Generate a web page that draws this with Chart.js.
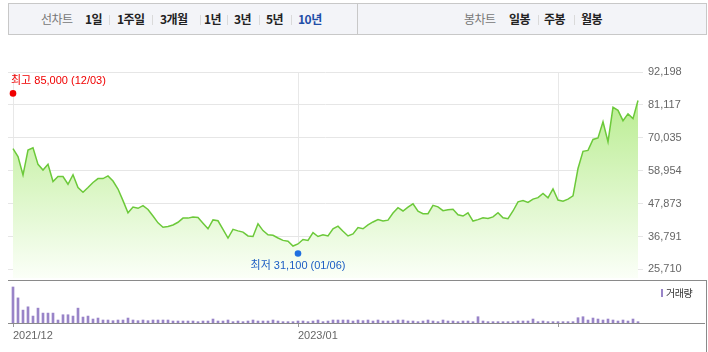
<!DOCTYPE html>
<html>
<head>
<meta charset="utf-8">
<script src="https://cdn.jsdelivr.net/npm/chart.js@4.4.1/dist/chart.umd.min.js"></script>
<style>
body{margin:0;width:708px;height:352px;position:relative;background:#fff;overflow:hidden;font-family:"Noto Sans CJK KR",sans-serif}
.bar{position:absolute;top:3px;height:30px;border:1px solid #c8c8c8;background:#f3f4f8}
.bar span{position:absolute;top:0;line-height:30px;font-size:12px;font-weight:bold;color:#222;white-space:nowrap;letter-spacing:-0.5px}
.bar span.t{color:#777;font-weight:normal}
.bar span.on{color:#1f4ea8}
.bar i{position:absolute;top:11px;width:1px;height:10px;background:#dadada}
canvas{position:absolute;left:0}
#price{top:0}
#vol{top:280px}
.frame-h{position:absolute;left:8px;top:280px;width:699px;height:1px;background:#8a8a8a}
.frame-v{position:absolute;left:706px;top:280px;width:1px;height:72px;background:#8a8a8a}
.lg{position:absolute;left:661px;top:289px;width:2px;height:8px;background:#9984c8}
.lgt{position:absolute;left:666px;top:286px;font-size:10px;line-height:14px;color:#333;letter-spacing:-0.5px}
</style>
</head>
<body>
<div class="bar" style="left:8px;width:348px">
  <span class="t" style="left:32px">선차트</span>
  <span style="left:76px">1일</span><i style="left:100px"></i>
  <span style="left:108px">1주일</span><i style="left:143px"></i>
  <span style="left:151px">3개월</span><i style="left:191px"></i>
  <span style="left:195px">1년</span><i style="left:218px"></i>
  <span style="left:225px">3년</span><i style="left:250px"></i>
  <span style="left:257px">5년</span><i style="left:282px"></i>
  <span class="on" style="left:289px">10년</span>
</div>
<div class="bar" style="left:357px;width:348px">
  <span class="t" style="left:106px">봉차트</span>
  <span style="left:151px">일봉</span><i style="left:180px"></i>
  <span style="left:186px">주봉</span><i style="left:216px"></i>
  <span style="left:223px">월봉</span>
</div>
<canvas id="price" width="708" height="290"></canvas>
<canvas id="vol" width="708" height="72"></canvas>
<div class="frame-h"></div>
<div class="frame-v"></div>
<div class="lg"></div>
<div class="lgt">거래량</div>
<script>
// weekly close prices, 2021/12 ~
const closePrices = [
  66400, 63700, 57500, 65900, 66700, 61100, 59200, 61100, 55300, 57000,
  57000, 54400, 57600, 53300, 51700, 53300, 55000, 56300, 56300, 57200,
  55500, 52800, 48900, 44800, 46700, 46300, 47200, 45900, 43700, 41400,
  39900, 40200, 40700, 41600, 43000, 43000, 43400, 43200, 41300, 39400,
  42400, 42100, 39200, 36300, 39200, 38700, 38300, 37000, 36800, 41100,
  38800, 37400, 37200, 36300, 35500, 35200, 33600, 34300, 35800, 35500,
  38100, 36800, 37400, 37000, 39400, 40300, 38600, 37000, 37700, 39800,
  39400, 40700, 41700, 42500, 42000, 42300, 44700, 46500, 45400, 46700,
  47800, 45300, 44500, 44500, 47300, 46800, 45500, 45800, 46000, 44100,
  43700, 44800, 42000, 42500, 43100, 42900, 43400, 44800, 43100, 42800,
  45400, 48500, 48900, 48300, 49400, 49900, 51300, 49800, 52800, 49100,
  48700, 49400, 50500, 59700, 65500, 65800, 69500, 70000, 75400, 68700,
  80300, 79300, 75800, 78100, 76500, 82600
];
// weekly volume (10k shares)
const volumes = [
  109, 76, 39, 49, 21, 45, 30, 30, 30, 9,
  25, 25, 21, 45, 18, 21, 12, 15, 9, 9,
  7, 9, 9, 15, 9, 7, 9, 7, 9, 9,
  9, 9, 6, 6, 6, 6, 6, 4, 6, 6,
  12, 6, 6, 9, 4, 6, 4, 6, 9, 6,
  6, 6, 9, 6, 4, 4, 4, 6, 6, 4,
  6, 9, 4, 6, 9, 9, 9, 9, 6, 9,
  7, 9, 6, 9, 6, 6, 6, 9, 9, 6,
  6, 4, 6, 9, 6, 4, 9, 6, 6, 4,
  6, 6, 4, 19, 6, 4, 4, 4, 4, 4,
  4, 6, 6, 6, 12, 4, 6, 4, 4, 4,
  4, 4, 4, 16, 19, 9, 15, 12, 9, 12,
  9, 6, 9, 6, 12, 4
];
const yTicks = [25710, 36791, 47873, 58954, 70035, 81117, 92198];
const xTickIdx = [0, 57, 109];
const xTickLabels = ['2021/12', '2023/01', ''];
const hiIdx = 0, hiPrice = 85000, hiLabel = '최고 85,000 (12/03)';
const loIdx = 57, loPrice = 31100, loLabel = '최저 31,100 (01/06)';

const FONT = "'Liberation Sans','Noto Sans CJK KR',sans-serif";
Chart.defaults.font.family = FONT;

const marks = {
  id: 'marks',
  afterDatasetsDraw(chart) {
    const { ctx, scales: { x, y } } = chart;
    ctx.save();
    ctx.font = '11px ' + FONT;
    ctx.textBaseline = 'middle';

    let px = x.getPixelForValue(hiIdx), py = y.getPixelForValue(hiPrice);
    ctx.fillStyle = '#f00000';
    ctx.beginPath(); ctx.arc(px, py, 3.3, 0, Math.PI * 2); ctx.fill();
    ctx.textAlign = 'left';
    ctx.fillText(hiLabel, px - 2, py - 12);

    px = x.getPixelForValue(loIdx); py = y.getPixelForValue(loPrice);
    ctx.fillStyle = '#1f6fe0';
    ctx.beginPath(); ctx.arc(px, py, 3.3, 0, Math.PI * 2); ctx.fill();
    ctx.fillStyle = '#1d5ec4';
    ctx.textAlign = 'center';
    ctx.fillText(loLabel, px, py + 13);
    ctx.restore();
  }
};

new Chart(document.getElementById('price'), {
  type: 'line',
  data: {
    datasets: [{
      data: closePrices.map((v, i) => ({ x: i, y: v })),
      borderColor: '#6cc93a',
      borderWidth: 1.5,
      pointRadius: 0,
      tension: 0,
      fill: 'start',
      backgroundColor: (c) => {
        const a = c.chart.chartArea;
        if (!a) return null;
        const g = c.chart.ctx.createLinearGradient(0, a.top, 0, a.bottom);
        g.addColorStop(0, '#b0ea82');
        g.addColorStop(1, '#fbfff8');
        return g;
      }
    }]
  },
  options: {
    responsive: false,
    animation: false,
    devicePixelRatio: 1,
    layout: { padding: { left: 8, top: 72, bottom: 10 } },
    plugins: { legend: { display: false }, tooltip: { enabled: false } },
    scales: {
      x: {
        type: 'linear', min: -1, max: 126,
        afterBuildTicks: (s) => { s.ticks = xTickIdx.map(v => ({ value: v })); },
        grid: { color: '#e8e8e8', drawTicks: false },
        border: { display: false },
        ticks: { display: false },
        afterFit: (s) => { s.height = 0; }
      },
      y: {
        position: 'right', min: 22700, max: 92198,
        afterBuildTicks: (s) => { s.ticks = yTicks.map(v => ({ value: v })); },
        grid: { color: '#e6e6e6', drawTicks: false },
        border: { display: false },
        ticks: { color: '#666', font: { size: 11 }, padding: 5, callback: (v) => v.toLocaleString('en-US') },
        afterFit: (s) => { s.width = 65; }
      }
    }
  },
  plugins: [marks]
});

new Chart(document.getElementById('vol'), {
  type: 'bar',
  data: {
    datasets: [{
      data: volumes.map((v, i) => ({ x: i, y: v })),
      backgroundColor: '#9984c8',
      barThickness: 2,
      borderWidth: 0
    }]
  },
  options: {
    responsive: false,
    animation: false,
    devicePixelRatio: 1,
    layout: { padding: { left: 8, right: 4, top: 6 } },
    plugins: { legend: { display: false }, tooltip: { enabled: false } },
    scales: {
      x: {
        type: 'linear', min: -1, max: 138.2, offset: false,
        afterBuildTicks: (s) => { s.ticks = xTickIdx.map(v => ({ value: v })); },
        grid: { offset: false, drawOnChartArea: false, drawTicks: true, tickLength: 4, color: '#999' },
        border: { display: true, color: '#8a8a8a' },
        ticks: { align: 'start', color: '#666', font: { size: 11 }, padding: 2, maxRotation: 0, autoSkip: false,
                 callback: (v, i) => xTickLabels[i] },
        afterFit: (s) => { s.height = 29; }
      },
      y: { display: false, min: 0, max: 112 }
    }
  }
});
</script>
</body>
</html>
